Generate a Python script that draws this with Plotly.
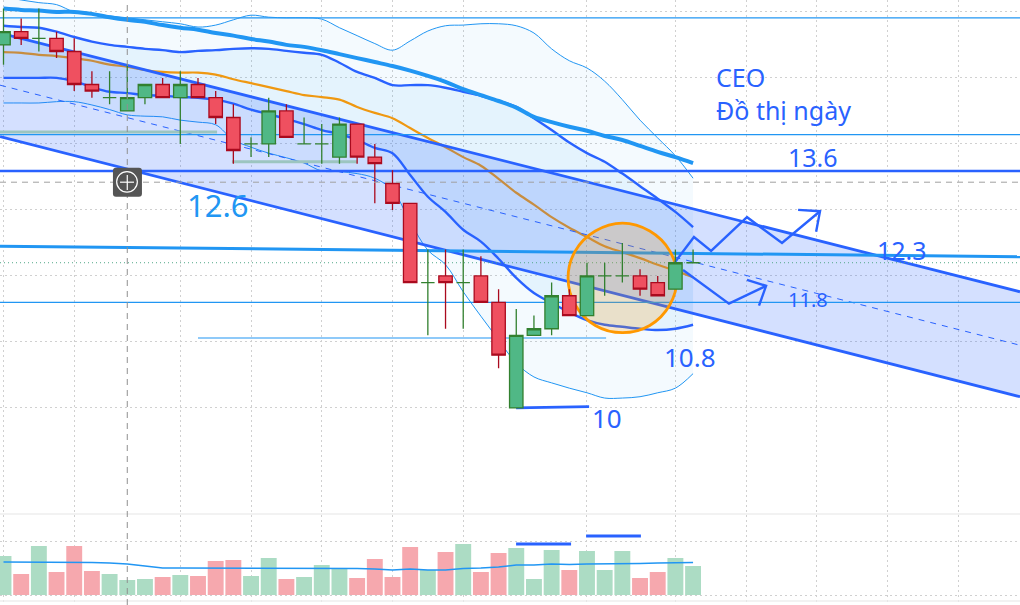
#!/usr/bin/python3

import plotly.graph_objects as go

# candles, one per bar
OPEN = [15.5, 15.7, 15.6, 15.6, 15.4, 14.9, 14.7, 14.5, 14.7, 14.9,
        14.7, 14.9, 14.7, 14.4, 14.0, 14.0, 14.5, 14.0, 14.0, 13.8,
        14.3, 13.8, 13.4, 13.1, 11.9, 12.0, 11.9, 12.0, 11.6, 10.0,
        11.1, 11.2, 11.7, 11.4, 12.0, 12.0, 12.0, 11.9, 11.8, 12.2]
HIGH = [16.05, 15.9, 16.05, 15.7, 15.6, 15.1, 15.1, 15.2, 14.9, 15.0,
        15.1, 15.0, 14.8, 14.6, 14.1, 14.7, 14.6, 14.4, 14.3, 14.4,
        14.3, 14.0, 13.6, 13.1, 12.4, 12.4, 12.4, 12.3, 11.8, 11.5,
        11.4, 11.9, 11.8, 12.2, 12.2, 12.5, 12.1, 12.0, 12.4, 12.4]
LOW = [15.2, 15.5, 15.4, 15.3, 14.8, 14.7, 14.6, 14.5, 14.6, 14.7,
       14.0, 14.7, 14.3, 13.7, 13.8, 13.8, 14.1, 14.0, 13.7, 13.7,
       13.7, 13.1, 13.0, 11.9, 11.1, 11.2, 11.2, 11.6, 10.6, 10.0,
       11.1, 11.1, 11.4, 11.4, 11.7, 11.9, 11.7, 11.7, 11.8, 12.2]
CLOSE = [15.7, 15.6, 15.6, 15.4, 14.9, 14.8, 14.7, 14.7, 14.9, 14.7,
         14.9, 14.7, 14.4, 13.9, 14.0, 14.5, 14.1, 14.0, 14.0, 14.3,
         13.8, 13.7, 13.1, 11.9, 11.9, 11.9, 11.9, 11.6, 10.8, 11.1,
         11.2, 11.7, 11.4, 12.0, 12.0, 12.0, 11.8, 11.7, 12.2, 12.2]
# 1 = green bar, 0 = red bar
IS_UP = [1, 0, 1, 0, 0, 0, 1, 1, 1, 0,
         1, 0, 0, 0, 1, 1, 0, 1, 1, 1,
         0, 0, 0, 0, 1, 0, 1, 0, 0, 1,
         1, 1, 0, 1, 1, 1, 0, 0, 1, 1]
VOLUME = [39, 21, 49, 23, 49, 24, 21, 15, 16, 18,
          20, 19, 34, 35, 19, 37, 16, 18, 30, 26,
          17, 36, 18, 48, 25, 43, 51, 23, 42, 47,
          16, 45, 25, 44, 25, 44, 17, 23, 37, 29]
VOLUME_MA = [33, 33, 33, 33, 32.5, 32.5, 32, 31, 29, 27,
             27, 27, 27, 27, 27, 27, 27, 27, 26.5, 26.5,
             26.5, 26, 25, 26, 25, 25, 26.5, 27, 28, 30,
             30, 31, 30.5, 31, 31, 31.5, 31.5, 32, 32, 32.5]

# indicators
OUTER_UPPER = [16.23, 16.18, 16.14, 16.11, 16.00, 15.97, 15.94, 15.91, 15.88, 15.85,
               15.82, 15.77, 15.80, 15.88, 15.95, 15.92, 15.91, 15.91, 15.89, 15.76,
               15.64, 15.52, 15.42, 15.56, 15.71, 15.79, 15.80, 15.82, 15.82, 15.79,
               15.68, 15.44, 15.26, 15.15, 14.95, 14.67, 14.36, 14.09, 13.82, 13.48]
OUTER_LOWER = [14.62, 14.62, 14.62, 14.64, 14.64, 14.59, 14.52, 14.44, 14.42, 14.41,
               14.36, 14.33, 14.29, 14.06, 13.95, 13.86, 13.79, 13.71, 13.59, 13.58,
               13.55, 13.48, 13.30, 12.82, 12.39, 12.17, 11.76, 11.39, 11.03, 10.68,
               10.47, 10.38, 10.30, 10.23, 10.15, 10.15, 10.17, 10.23, 10.30, 10.52]
INNER_UPPER = [15.79, 15.77, 15.76, 15.70, 15.62, 15.55, 15.50, 15.47, 15.44, 15.42,
               15.39, 15.41, 15.42, 15.44, 15.45, 15.44, 15.41, 15.38, 15.35, 15.23,
               15.09, 15.00, 14.89, 14.89, 14.89, 14.85, 14.79, 14.73, 14.65, 14.56,
               14.39, 14.21, 14.02, 13.86, 13.73, 13.55, 13.36, 13.17, 12.97, 12.74]
INNER_LOWER = [15.00, 15.00, 15.00, 15.00, 14.95, 14.86, 14.79, 14.77, 14.74, 14.73,
               14.71, 14.70, 14.67, 14.61, 14.52, 14.45, 14.38, 14.30, 14.21, 14.15,
               14.06, 13.94, 13.86, 13.53, 13.20, 12.97, 12.70, 12.52, 12.26, 11.97,
               11.74, 11.59, 11.45, 11.33, 11.26, 11.23, 11.20, 11.18, 11.20, 11.26]
ORANGE_MA = [15.39, 15.38, 15.35, 15.33, 15.30, 15.26, 15.20, 15.17, 15.12, 15.09,
             15.08, 15.08, 15.05, 14.98, 14.92, 14.86, 14.80, 14.74, 14.71, 14.67,
             14.56, 14.47, 14.39, 14.24, 14.09, 13.95, 13.80, 13.67, 13.47, 13.26,
             13.08, 12.89, 12.73, 12.59, 12.45, 12.36, 12.27, 12.17, 12.08, 11.98]
THICK_MA = [16.05, 16.03, 16.02, 16.00, 16.00, 15.97, 15.92, 15.88, 15.85, 15.80,
            15.76, 15.73, 15.68, 15.64, 15.59, 15.55, 15.50, 15.47, 15.42, 15.36,
            15.30, 15.24, 15.18, 15.11, 15.03, 14.94, 14.83, 14.74, 14.65, 14.55,
            14.41, 14.33, 14.26, 14.20, 14.12, 14.06, 13.97, 13.88, 13.80, 13.71]

# hand drawn stuff
X_START = -0.198
X_END = 57.49
CHANNEL_UPPER = [15.68, 11.76]
CHANNEL_MID = [14.89, 10.95]
CHANNEL_LOWER = [14.11, 10.17]
LEVEL_THICK = [12.45, 12.29]
LEVELS_THIN = [15.91, 14.14, 11.6]
LEVEL_MAIN = 13.59
SUPPORT_X = [11.0, 34.08]
SUPPORT_Y = 11.06
TEAL_1_X = [X_START, 12.08]
TEAL_1_Y = 14.18
TEAL_2_X = [12.92, 20.0]
TEAL_2_Y = 13.73
UP_PATH_X = [37.98, 39.05, 40.02, 42.05, 44.03, 46.18]
UP_PATH_Y = [12.21, 12.59, 12.38, 12.89, 12.50, 12.98]
UP_HEAD_X = [44.94, 46.18, 45.96]
UP_HEAD_Y = [13.0, 12.98, 12.67]
DOWN_PATH_X = [38.43, 41.03, 43.13]
DOWN_PATH_Y = [12.09, 11.58, 11.85]
DOWN_HEAD_X = [42.05, 43.13, 42.73]
DOWN_HEAD_Y = [11.94, 11.85, 11.55]
TEN_X = [28.99, 33.12]
TEN_Y = [10.0, 10.02]
CIRCLE_X = [38.09, 37.68, 36.55, 35.01, 33.47, 32.34, 31.93, 32.34, 33.47, 35.01, 36.55, 37.68, 38.09]
CIRCLE_Y = [11.97, 12.38, 12.68, 12.80, 12.68, 12.38, 11.97, 11.56, 11.25, 11.14, 11.25, 11.56, 11.97]
VOL_MARK_1_X = [28.99, 32.1]
VOL_MARK_1_Y = 51
VOL_MARK_2_X = [32.95, 36.05]
VOL_MARK_2_Y = 59

GRID_X = [0, 4, 10, 14, 18, 22, 26, 33, 38, 42, 46, 50, 54]
GRID_Y = [10, 11, 12, 13, 14, 15, 16]
GRID_VOL = [0, 54]
CROSS_X = 7
CROSS_Y = 13.42
LAST_PRICE = 12.2

LABELS = [
    ("13.6", 45.79, 13.80, 25, "#2962FF"),
    ("12.3", 50.82, 12.39, 25, "#2962FF"),
    ("11.8", 45.5, 11.65, 20, "#2962FF"),
    ("10.8", 38.83, 10.77, 26, "#2962FF"),
    ("10", 34.13, 9.85, 26, "#2962FF"),
    ("12.6", 12.13, 13.08, 31, "#2196F3"),
]
TITLE_TEXT = "CEO<br>Đồ thị ngày"

BLUE = "#2962FF"
SKY = "#2196F3"
ORANGE = "#FF9800"
FONT = "Noto Sans"
DOTS = "2px,3px"

bars = list(range(len(OPEN)))
fig = go.Figure()


def add_line(x, y, color, width, dash="solid", fill=None, fillcolor=None, yaxis="y", shape="linear"):
    fig.add_trace(go.Scatter(x=x, y=y, mode="lines", yaxis=yaxis,
                             line=dict(color=color, width=width, dash=dash, shape=shape),
                             fill=fill, fillcolor=fillcolor, hoverinfo="skip"))


# bollinger style bands
add_line(bars, OUTER_UPPER, SKY, 1, shape="spline")
add_line(bars, OUTER_LOWER, SKY, 1, fill="tonexty", fillcolor="rgba(33,150,243,0.05)", shape="spline")
add_line(bars, ORANGE_MA, ORANGE, 2.2, shape="spline")
add_line(bars, INNER_UPPER, BLUE, 2.4, shape="spline")
add_line(bars, INNER_LOWER, BLUE, 2.4, fill="tonexty", fillcolor="rgba(33,150,243,0.07)", shape="spline")

# the channel
add_line([X_START, X_END], CHANNEL_UPPER, BLUE, 2.8)
add_line([X_START, X_END], CHANNEL_LOWER, BLUE, 2.8, fill="tonexty", fillcolor="rgba(41,98,255,0.2)")
add_line([X_START, X_END], CHANNEL_MID, BLUE, 1, dash="6px,6px")

add_line(bars, THICK_MA, SKY, 4, shape="spline")
add_line([X_START, X_END], LEVEL_THICK, SKY, 3)
for level in LEVELS_THIN:
    add_line([X_START, X_END], [level, level], SKY, 1.2)
add_line([X_START, X_END], [LEVEL_MAIN, LEVEL_MAIN], BLUE, 2.5)
add_line(SUPPORT_X, [SUPPORT_Y, SUPPORT_Y], SKY, 1.2)
add_line(TEAL_1_X, [TEAL_1_Y, TEAL_1_Y], "#9CC5C0", 3)
add_line(TEAL_2_X, [TEAL_2_Y, TEAL_2_Y], "#9CC5C0", 3)
add_line([X_START, X_END], [LAST_PRICE, LAST_PRICE], "#52A888", 1, dash="1px,3px")

add_line(CIRCLE_X, CIRCLE_Y, ORANGE, 2.8, fill="toself", fillcolor="rgba(255,152,0,0.2)", shape="spline")

add_line(UP_PATH_X, UP_PATH_Y, BLUE, 2.4)
add_line(UP_HEAD_X, UP_HEAD_Y, BLUE, 2.4)
add_line(DOWN_PATH_X, DOWN_PATH_Y, BLUE, 2.4)
add_line(DOWN_HEAD_X, DOWN_HEAD_Y, BLUE, 2.4)
add_line(TEN_X, TEN_Y, BLUE, 2.8)

# volume pane
vol_colors = ["#ACDCC4" if up else "#F6A8AE" for up in IS_UP]
fig.add_trace(go.Bar(x=bars, y=VOLUME, marker=dict(color=vol_colors, line_width=0),
                     width=0.9, yaxis="y2", hoverinfo="skip"))
add_line(bars, VOLUME_MA, SKY, 1.6, yaxis="y2")
add_line(VOL_MARK_1_X, [VOL_MARK_1_Y, VOL_MARK_1_Y], BLUE, 3, yaxis="y2")
add_line(VOL_MARK_2_X, [VOL_MARK_2_Y, VOL_MARK_2_Y], BLUE, 3, yaxis="y2")
add_line([X_START, X_END], [81, 81], "#EEEEEE", 1.5, yaxis="y2")
add_line([X_START, X_END], [-6, -6], "#EEEEEE", 1.5, yaxis="y2")

# candles go last on their own axis so they sit on top of everything
for up, fill_col, line_col in [(1, "#50B886", "#32802F"), (0, "#EF5060", "#AA0A1E")]:
    idx = [i for i in bars if IS_UP[i] == up]
    side = dict(fillcolor=fill_col, line=dict(color=line_col, width=1.3))
    fig.add_trace(go.Candlestick(x=idx,
                                 open=[OPEN[i] for i in idx],
                                 high=[HIGH[i] for i in idx],
                                 low=[LOW[i] for i in idx],
                                 close=[CLOSE[i] for i in idx],
                                 increasing=side, decreasing=side,
                                 yaxis="y3", hoverinfo="skip"))

for text, x, y, size, color in LABELS:
    fig.add_annotation(x=x, y=y, text=text, showarrow=False, xanchor="center", yanchor="middle",
                       font=dict(family=FONT, size=size, color=color))
fig.add_annotation(x=40.2, y=14.76, text=TITLE_TEXT, showarrow=False, xanchor="left", yanchor="middle",
                   align="left", font=dict(family=FONT, size=25, color=BLUE))

# crosshair and the little plus button
fig.add_shape(type="line", xref="x", yref="paper", x0=CROSS_X, x1=CROSS_X, y0=0, y1=1,
              line=dict(color="#909090", width=1, dash="6px,5px"))
fig.add_shape(type="line", xref="paper", yref="y", x0=0, x1=1, y0=CROSS_Y, y1=CROSS_Y,
              line=dict(color="#A0A0A0", width=1, dash="6px,5px"))
fig.add_shape(type="path", fillcolor="#555555", line=dict(width=0),
              path="M 6.36 13.64 L 7.66 13.64 Q 7.83 13.64 7.83 13.59 L 7.83 13.25 "
                   "Q 7.83 13.2 7.66 13.2 L 6.36 13.2 Q 6.19 13.2 6.19 13.25 L 6.19 13.59 "
                   "Q 6.19 13.64 6.36 13.64 Z")
fig.add_shape(type="circle", x0=6.4, x1=7.57, y0=13.27, y1=13.58, line=dict(color="white", width=1.2))
fig.add_shape(type="line", x0=6.59, x1=7.38, y0=CROSS_Y, y1=CROSS_Y, line=dict(color="white", width=1.2))
fig.add_shape(type="line", x0=CROSS_X, x1=CROSS_X, y0=13.30, y1=13.53, line=dict(color="white", width=1.2))

fig.update_layout(
    width=1020, height=605, margin=dict(l=0, r=0, t=0, b=0),
    paper_bgcolor="white", plot_bgcolor="white",
    showlegend=False, boxmode="overlay", boxgap=0.24, boxgroupgap=0, barmode="overlay",
    xaxis=dict(range=[X_START, X_END], tickvals=GRID_X, showticklabels=False, ticks="",
               showgrid=True, griddash=DOTS, gridcolor="#D0D0D0", gridwidth=1,
               zeroline=False, rangeslider=dict(visible=False)),
    yaxis=dict(range=[7.015, 16.18], tickvals=GRID_Y, showticklabels=False, ticks="",
               showgrid=True, griddash=DOTS, gridcolor="#D0D0D0", gridwidth=1, zeroline=False),
    yaxis2=dict(range=[-10, 595], overlaying="y", tickvals=GRID_VOL, showticklabels=False, ticks="",
                showgrid=True, griddash=DOTS, gridcolor="#D0D0D0", gridwidth=1, zeroline=False),
    yaxis3=dict(range=[7.015, 16.18], overlaying="y", showticklabels=False, ticks="",
                showgrid=False, zeroline=False),
)

fig.write_html("out.html", config=dict(displayModeBar=False),
               post_script="document.body.style.margin='0';")
